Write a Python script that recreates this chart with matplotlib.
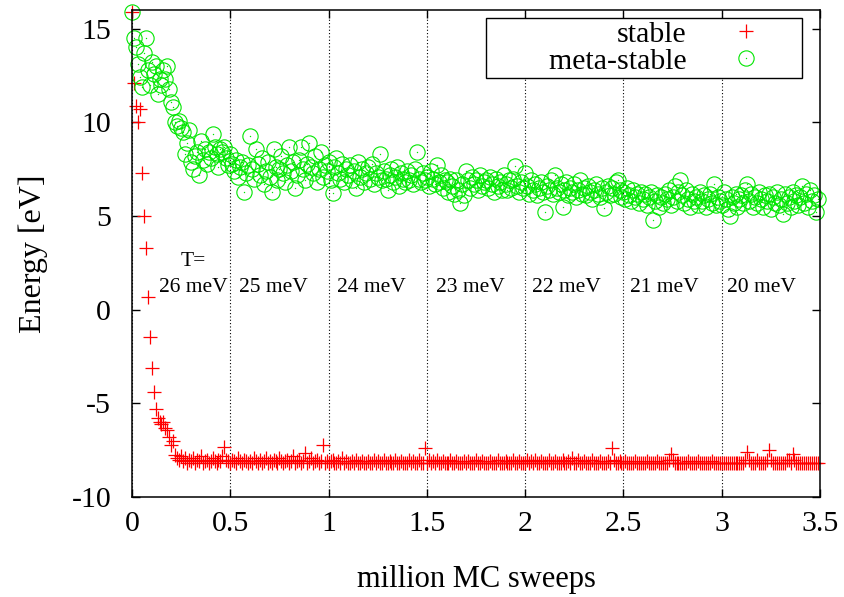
import numpy as np
import matplotlib
matplotlib.use("Agg")
import matplotlib.pyplot as plt
from matplotlib.legend_handler import HandlerTuple

plt.rcParams["font.family"] = ["Liberation Serif", "DejaVu Serif"]
plt.rcParams["axes.unicode_minus"] = False

# energies, one point every 0.01 million sweeps
#
stable_energy = [
  15.9, 12.1, 10.9, 10.0, 10.7, 7.3, 5.0, 3.3, 0.7, -1.45,
  -3.1, -4.4, -5.3, -5.8, -6.0, -6.1, -6.0, -6.3, -6.4, -6.8,
  -7.2, -7.0, -7.75, -7.9, -8.0, -7.8, -8.1, -7.9, -8.2, -8.0,
  -8.1, -7.9, -8.2, -8.0, -8.1, -7.8, -8.2, -8.1, -8.0, -8.2,
  -8.1, -7.9, -8.1, -8.2, -8.0, -8.1, -7.8, -7.35, -8.0, -8.1,
  -8.2, -8.0, -8.1, -8.2, -7.9, -8.1, -8.2, -8.0, -8.1, -8.2,
  -8.1, -8.2, -7.9, -8.1, -8.2, -8.0, -8.2, -8.1, -7.9, -8.2,
  -8.1, -8.2, -8.0, -8.1, -8.2, -7.9, -8.1, -8.2, -8.1, -8.0,
  -8.2, -8.1, -7.8, -8.2, -8.1, -8.0, -8.2, -8.1, -7.65, -8.2,
  -8.1, -7.9, -8.2, -8.1, -8.0, -8.2, -8.1, -7.25, -8.2, -8.1,
  -8.2, -8.1, -8.0, -8.2, -8.2, -8.1, -8.2, -7.9, -8.2, -8.1,
  -8.2, -8.2, -8.1, -8.2, -8.0, -8.2, -8.2, -8.1, -8.2, -8.2,
  -8.1, -8.2, -8.2, -8.0, -8.2, -8.1, -8.2, -8.2, -8.0, -8.2,
  -8.2, -8.1, -8.2, -8.2, -8.0, -8.2, -8.2, -8.1, -8.2, -8.2,
  -8.2, -8.0, -8.2, -8.1, -8.2, -8.2, -8.0, -8.2, -8.2, -7.4,
  -8.2, -8.0, -8.2, -8.1, -8.2, -8.0, -8.2, -8.2, -8.1, -8.2,
  -8.2, -8.2, -8.0, -8.2, -8.2, -8.1, -8.2, -8.2, -8.2, -8.1,
  -8.2, -8.1, -8.2, -8.2, -8.2, -8.0, -8.2, -8.2, -8.1, -8.2,
  -8.2, -8.2, -8.1, -8.2, -8.2, -8.2, -8.0, -8.2, -8.2, -8.2,
  -8.1, -8.2, -8.2, -8.2, -8.0, -8.2, -8.2, -8.1, -8.2, -8.2,
  -8.2, -8.0, -8.2, -8.1, -8.2, -8.0, -8.2, -8.2, -8.1, -8.2,
  -8.2, -8.2, -8.0, -8.2, -8.2, -8.1, -8.2, -8.2, -8.2, -8.0,
  -8.2, -8.2, -8.1, -8.2, -7.9, -8.2, -8.2, -8.0, -8.2, -8.2,
  -8.1, -8.2, -8.2, -8.2, -8.0, -8.2, -8.2, -8.2, -8.1, -8.2,
  -8.2, -8.2, -8.1, -8.2, -7.4, -8.0, -8.2, -8.2, -8.1, -8.2,
  -8.2, -8.1, -8.2, -8.2, -8.2, -8.2, -8.1, -8.2, -8.2, -8.2,
  -8.2, -8.2, -8.1, -8.2, -8.2, -8.2, -8.2, -8.1, -8.2, -8.2,
  -8.2, -8.2, -8.2, -8.0, -7.7, -8.0, -8.2, -8.2, -8.2, -8.2,
  -8.2, -8.2, -8.2, -8.1, -8.2, -8.2, -8.2, -8.2, -8.1, -8.2,
  -8.2, -8.2, -8.2, -8.2, -8.2, -8.1, -8.2, -8.2, -8.2, -8.2,
  -8.2, -8.2, -8.2, -8.2, -8.2, -8.2, -8.2, -8.2, -8.2, -8.2,
  -8.2, -8.2, -8.0, -7.6, -8.0, -8.2, -8.2, -8.2, -8.0, -8.2,
  -8.2, -8.2, -8.2, -8.0, -7.5, -8.0, -8.2, -8.2, -8.2, -8.2,
  -8.2, -8.2, -8.2, -8.0, -8.0, -8.2, -7.7, -8.0, -8.2, -8.2,
  -8.2, -8.2, -8.2, -8.2, -8.2, -8.2, -8.2, -8.2, -8.2, -8.2,
]

metastable_energy = [
  15.9, 14.5, 14.0, 13.1, 12.4, 11.9, 13.7, 14.5, 12.8, 12.0,
  13.2, 12.6, 13.0, 11.5, 12.3, 12.0, 12.8, 12.3, 13.0, 11.8,
  11.1, 10.8, 10.0, 9.8, 10.1, 9.7, 9.5, 8.3, 8.9, 9.6,
  7.9, 7.5, 8.2, 8.4, 7.2, 9.0, 8.0, 8.6, 7.8, 8.4,
  8.1, 9.4, 8.7, 8.3, 7.6, 8.6, 8.4, 8.7, 8.1, 7.7,
  8.3, 7.8, 7.4, 8.0, 7.1, 7.6, 7.9, 6.3, 7.3, 7.7,
  9.3, 7.5, 7.0, 8.6, 7.8, 7.2, 8.1, 6.7, 7.4, 7.9,
  7.1, 6.3, 8.6, 7.6, 6.9, 7.5, 8.2, 7.3, 6.8, 7.7,
  8.7, 7.4, 7.9, 6.5, 7.2, 8.0, 8.7, 7.5, 6.9, 7.8,
  8.9, 7.6, 7.3, 8.2, 6.8, 7.5, 8.4, 7.1, 7.7, 7.4,
  7.9, 6.9, 6.25, 7.6, 8.1, 7.3, 7.0, 7.8, 6.8, 7.5,
  7.2, 7.7, 6.9, 7.4, 6.5, 7.9, 7.1, 7.5, 6.8, 7.3,
  7.6, 7.0, 7.8, 6.7, 7.3, 7.1, 8.3, 6.9, 7.4, 7.0,
  6.4, 7.2, 7.5, 6.8, 7.1, 7.6, 6.6, 7.3, 7.0, 6.8,
  7.4, 6.9, 7.2, 6.7, 7.5, 8.4, 7.0, 6.8, 7.3, 6.9,
  7.1, 6.6, 7.4, 7.0, 6.7, 7.75, 6.8, 7.2, 6.5, 6.9,
  6.8, 6.3, 7.0, 6.6, 6.2, 6.9, 6.4, 5.7, 6.7, 6.15,
  7.4, 6.9, 6.5, 7.1, 6.7, 6.95, 6.4, 7.2, 6.6, 6.8,
  6.9, 6.5, 7.1, 6.7, 6.3, 7.0, 6.6, 6.8, 6.4, 7.2,
  6.7, 6.4, 6.9, 6.5, 7.0, 7.65, 6.6, 6.3, 6.8, 6.5,
  7.3, 6.6, 6.2, 6.9, 6.4, 6.7, 6.1, 6.5, 6.8, 6.3,
  5.2, 6.6, 6.4, 6.9, 6.2, 7.2, 6.5, 6.3, 6.7, 5.5,
  6.4, 6.8, 6.1, 6.5, 6.3, 6.7, 6.0, 6.4, 6.95, 6.2,
  6.5, 6.1, 6.6, 6.3, 5.9, 6.4, 6.7, 6.2, 6.0, 6.5,
  5.45, 6.3, 6.6, 6.1, 6.5, 6.2, 6.8, 6.95, 6.4, 6.0,
  6.3, 5.9, 6.5, 6.1, 5.8, 6.4, 6.0, 6.2, 5.7, 6.3,
  5.9, 6.2, 5.6, 6.0, 6.3, 4.8, 5.8, 6.1, 5.5, 6.0,
  5.7, 6.2, 5.9, 6.4, 5.6, 6.0, 6.6, 5.8, 6.3, 6.95,
  6.1, 5.7, 6.4, 5.9, 5.5, 6.2, 5.8, 6.0, 5.6, 6.3,
  5.8, 6.1, 5.5, 5.9, 6.2, 5.7, 6.7, 5.6, 6.0, 5.8,
  5.6, 6.3, 5.9, 5.4, 5.0, 6.0, 5.7, 6.2, 5.5, 5.9,
  6.1, 5.7, 6.4, 6.7, 5.8, 6.2, 5.5, 6.0, 5.7, 6.3,
  5.9, 5.5, 6.1, 5.8, 6.2, 5.4, 6.0, 5.7, 6.3, 5.6,
  5.9, 5.1, 6.2, 5.7, 6.0, 5.5, 6.3, 5.8, 6.1, 5.6,
  6.0, 6.6, 5.7, 6.2, 5.5, 6.4, 5.8, 6.1, 5.2, 5.9,
]

# sample positions in million MC sweeps
sweeps = np.arange(len(stable_energy)) * 0.01

temperatures = ["26 meV", "25 meV", "24 meV", "23 meV", "22 meV", "21 meV", "20 meV"]
temp_label_x = [0.31, 0.72, 1.22, 1.72, 2.21, 2.71, 3.20]

RED = "#ff0000"
GREEN = "#00e600"
FS = 21.5

fig = plt.figure(figsize=(8.44, 5.97), dpi=100)
ax = fig.add_axes([0.1564, 0.1675, 0.8152, 0.8157])

st, = ax.plot(sweeps, stable_energy, linestyle="none", marker="+",
  markersize=10, markeredgewidth=0.9, color=RED, clip_on=False)
ms, = ax.plot(sweeps, metastable_energy, linestyle="none", marker="o",
  markersize=11, markeredgewidth=0.8, markerfacecolor="none",
  markeredgecolor=GREEN, clip_on=False)
ms_dot, = ax.plot(sweeps, metastable_energy, linestyle="none", marker="o",
  markersize=1, markeredgewidth=0, color=GREEN, clip_on=False)

ax.set_xlim(0, 3.5)
ax.set_ylim(-10, 16)
ax.set_xticks([0, 0.5, 1, 1.5, 2, 2.5, 3, 3.5])
ax.set_xticklabels(["0", "0.5", "1", "1.5", "2", "2.5", "3", "3.5"])
ax.set_yticks([-10, -5, 0, 5, 10, 15])

ax.tick_params(direction="in", length=6, width=1, top=True, right=True,
  labelsize=FS)
ax.tick_params(axis="y", pad=15)
ax.tick_params(axis="x", pad=10)
for sp in ax.spines.values():
  sp.set_linewidth(1.1)

# vertical dotted separators between temperature blocks
ax.grid(axis="x", linestyle=(0, (1, 2)), color="black", linewidth=0.8)

for label, x in zip(temperatures, temp_label_x):
  ax.text(x, 1.2, label, ha="center", va="center", fontsize=15.5)
ax.text(temp_label_x[0], 2.6, "T=", ha="center", va="center", fontsize=15.5)

ax.set_xlabel("million MC sweeps", fontsize=22, labelpad=20)
ax.set_ylabel("Energy [eV]", fontsize=23, labelpad=17)

leg = ax.legend([st, (ms, ms_dot)], ["stable", "        meta-stable"],
  handler_map={tuple: HandlerTuple(ndivide=1, pad=0)},
  loc="upper right", bbox_to_anchor=(0.9738, 0.9836), borderaxespad=0,
  markerfirst=False, fancybox=False, framealpha=1, edgecolor="black",
  fontsize=FS, handlelength=3.55, handletextpad=0.23, borderpad=0.1,
  labelspacing=0.0)
leg.get_frame().set_linewidth(1.0)

plt.savefig("out.png", dpi=100)
